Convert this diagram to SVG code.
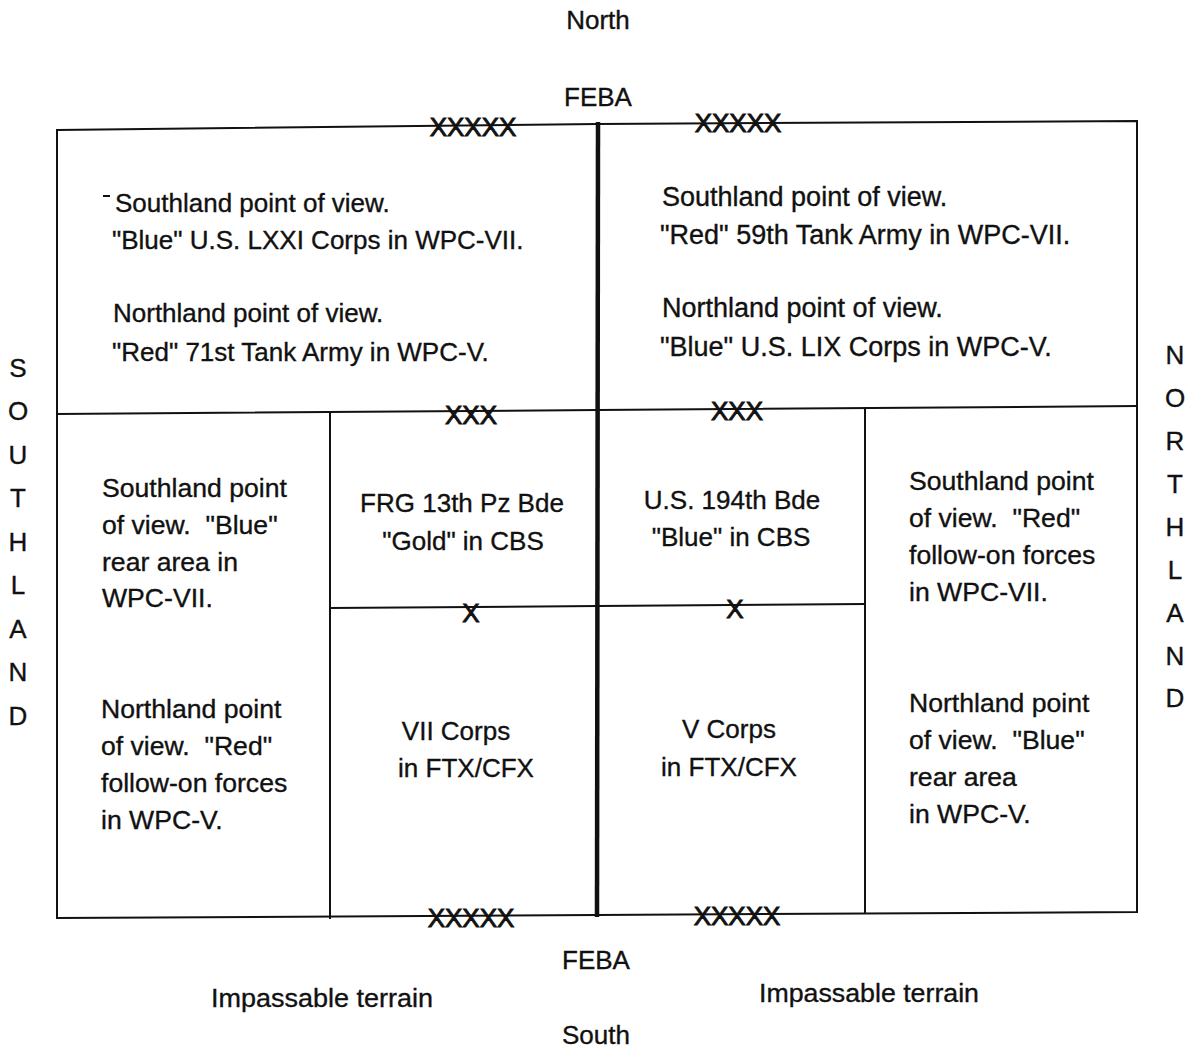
<svg xmlns="http://www.w3.org/2000/svg" width="1186" height="1049" viewBox="0 0 1186 1049">
<style>
text{font-family:"Liberation Sans",Arial,sans-serif;font-size:26px;fill:#111;stroke:#111;stroke-width:0.35;white-space:pre}
.c{text-anchor:middle}
.x{text-anchor:middle;font-size:26px;dominant-baseline:central;stroke-width:0.9}
.big text{font-size:27px}
.mid text{font-size:26.6px}
.ln{stroke:#111;stroke-width:2;fill:none;stroke-linecap:square}
.thick{stroke:#111;stroke-width:4.5;fill:none}
</style>
<rect width="1186" height="1049" fill="#fff"/>
<g id="connectors">
<path class="ln" d="M57,130 L598,124 L1137,121 L1137,912 L597,915 L57,918 Z"/>
<path class="ln" d="M57,414 L598,410 L1137,406"/>
<path class="ln" d="M330,413 L330,918"/>
<path class="ln" d="M865,408 L865,912"/>
<path class="ln" d="M330,608 L598,606 L865,604"/>
<path class="thick" d="M598,122 L597,917"/>
<path class="ln" d="M104,196 L109,196" stroke-width="1.5"/>
</g>
<g id="markers">
<text class="x" x="473" y="127">XXXXX</text>
<text class="x" x="738" y="123">XXXXX</text>
<text class="x" x="471" y="415">XXX</text>
<text class="x" x="737" y="411">XXX</text>
<text class="x" x="471" y="613">X</text>
<text class="x" x="735" y="609">X</text>
<text class="x" x="471" y="918">XXXXX</text>
<text class="x" x="737" y="916">XXXXX</text>
</g>
<g id="compass">
<text class="c" x="598" y="29">North</text>
<text class="c" x="598" y="106">FEBA</text>
<text class="c" x="596" y="969">FEBA</text>
<text class="c" x="322" y="1007" textLength="222" lengthAdjust="spacingAndGlyphs">Impassable terrain</text>
<text class="c" x="869" y="1002" textLength="220" lengthAdjust="spacingAndGlyphs">Impassable terrain</text>
<text class="c" x="596" y="1044">South</text>
</g>
<g id="southland-label">
<text class="c" x="18" y="377">S</text>
<text class="c" x="18" y="420">O</text>
<text class="c" x="18" y="464">U</text>
<text class="c" x="18" y="507">T</text>
<text class="c" x="18" y="551">H</text>
<text class="c" x="18" y="594">L</text>
<text class="c" x="18" y="638">A</text>
<text class="c" x="18" y="681">N</text>
<text class="c" x="18" y="725">D</text>
</g>
<g id="northland-label">
<text class="c" x="1175" y="364">N</text>
<text class="c" x="1175" y="407">O</text>
<text class="c" x="1175" y="450">R</text>
<text class="c" x="1175" y="493">T</text>
<text class="c" x="1175" y="536">H</text>
<text class="c" x="1175" y="579">L</text>
<text class="c" x="1175" y="622">A</text>
<text class="c" x="1175" y="665">N</text>
<text class="c" x="1175" y="707">D</text>
</g>
<g id="node-top-left">
<text x="115" y="212">Southland point of view.</text>
<text x="112" y="249">"Blue" U.S. LXXI Corps in WPC-VII.</text>
<text x="113" y="322">Northland point of view.</text>
<text x="112" y="361">"Red" 71st Tank Army in WPC-V.</text>
</g>
<g id="node-top-right" class="big">
<text x="662" y="206">Southland point of view.</text>
<text x="660" y="244">"Red" 59th Tank Army in WPC-VII.</text>
<text x="662" y="317">Northland point of view.</text>
<text x="660" y="356">"Blue" U.S. LIX Corps in WPC-V.</text>
</g>
<g id="node-left-rear" class="mid">
<text x="102" y="497">Southland point</text>
<text x="102" y="534">of view.  "Blue"</text>
<text x="102" y="571">rear area in</text>
<text x="102" y="607">WPC-VII.</text>
<text x="101" y="718">Northland point</text>
<text x="101" y="755">of view.  "Red"</text>
<text x="101" y="792">follow-on forces</text>
<text x="101" y="829">in WPC-V.</text>
</g>
<g id="node-frg">
<text class="c" x="462" y="512">FRG 13th Pz Bde</text>
<text class="c" x="463" y="550">"Gold" in CBS</text>
</g>
<g id="node-vii">
<text class="c" x="456" y="740">VII Corps</text>
<text class="c" x="466" y="777">in FTX/CFX</text>
</g>
<g id="node-us194">
<text class="c" x="732" y="509">U.S. 194th Bde</text>
<text class="c" x="731" y="546">"Blue" in CBS</text>
</g>
<g id="node-v">
<text class="c" x="729" y="738">V Corps</text>
<text class="c" x="729" y="776">in FTX/CFX</text>
</g>
<g id="node-right-rear" class="mid">
<text x="909" y="490">Southland point</text>
<text x="909" y="527">of view.  "Red"</text>
<text x="909" y="564">follow-on forces</text>
<text x="909" y="601">in WPC-VII.</text>
<text x="909" y="712">Northland point</text>
<text x="909" y="749">of view.  "Blue"</text>
<text x="909" y="786">rear area</text>
<text x="909" y="823">in WPC-V.</text>
</g>
</svg>
